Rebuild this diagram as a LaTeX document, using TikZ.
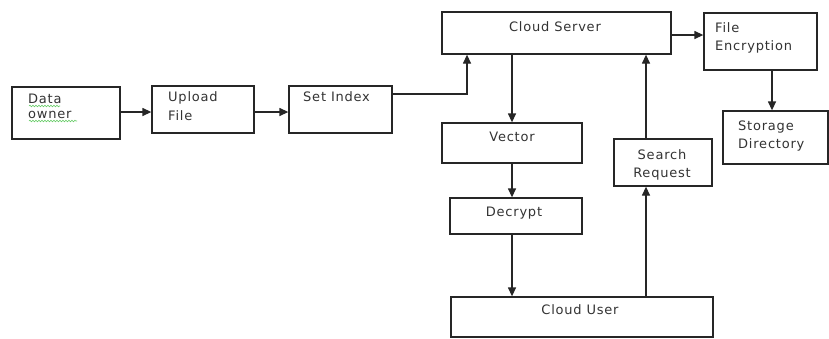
\documentclass[tikz,border=0pt]{standalone}
\usepackage{fontspec}
\setmainfont[LetterSpace=6]{DejaVu Sans}
\usetikzlibrary{arrows.meta,fit,decorations.pathmorphing}
\begin{document}
\begin{tikzpicture}[x=1bp,y=-1bp,
  box/.style={draw=black!85,line width=1.3bp,inner sep=0pt,fill=white},
  txt/.style={font=\fontsize{13bp}{18bp}\selectfont,text=black!80,inner sep=0pt,align=left},
  ctxt/.style={txt,align=center},
  arr/.style={draw=black!85,line width=1.3bp,-{Triangle[length=9bp,width=8bp]}},
  squig/.style={draw=green!50!gray!80,line width=0.6bp,decorate,decoration={snake,amplitude=0.8bp,segment length=3bp}}]
\useasboundingbox (0,0) rectangle (829,338);
\fill[white] (0,0) rectangle (829,338);
% boxes
\node[box,fit={(12,87) (120,139)}] (do) {};
\node[box,fit={(152,86) (254,133)}] (uf) {};
\node[box,fit={(289,86) (392,133)}] (si) {};
\node[box,fit={(442,12) (671,54)}] (cs) {};
\node[box,fit={(704,13) (817,70)}] (fe) {};
\node[box,fit={(723,111) (828,164)}] (sd) {};
\node[box,fit={(442,123) (582,163)}] (ve) {};
\node[box,fit={(614,139) (712,186)}] (sr) {};
\node[box,fit={(450,198) (582,234)}] (de) {};
\node[box,fit={(451,297) (713,337)}] (cu) {};
% texts
\node[txt,anchor=base west] (tdo1) at (28,103) {Data};
\node[txt,anchor=base west] (tdo2) at (28,118) {owner};
\draw[squig] (29,106) -- (60,106);
\draw[squig] (29,121) -- (77,121);
\node[txt,anchor=base west] (tuf1) at (168,101) {Upload};
\node[txt,anchor=base west] (tuf2) at (168,120) {File};
\node[txt,anchor=base west] (tsi) at (303,101) {Set Index};
\node[ctxt,anchor=base] (tcs) at (555,31) {Cloud Server};
\node[txt,anchor=base west] (tfe1) at (715,32) {File};
\node[txt,anchor=base west] (tfe2) at (715,50) {Encryption};
\node[txt,anchor=base west] (tsd1) at (738,130) {Storage};
\node[txt,anchor=base west] (tsd2) at (738,148) {Directory};
\node[ctxt,anchor=base] (tve) at (512,141) {Vector};
\node[ctxt,anchor=base] (tsr1) at (662,159) {Search};
\node[ctxt,anchor=base] (tsr2) at (662,177) {Request};
\node[ctxt,anchor=base] (tde) at (514,216) {Decrypt};
\node[ctxt,anchor=base] (tcu) at (580,314) {Cloud User};
% connectors
\draw[arr] (do.east |- 0,112) -- (uf.west |- 0,112);
\draw[arr] (uf.east |- 0,112) -- (si.west |- 0,112);
\draw[arr] (si.east |- 0,94) -- (467,94) -- (cs.south -| 467,0);
\draw[arr] (cs.south -| 512,0) -- (ve.north -| 512,0);
\draw[arr] (ve.south -| 512,0) -- (de.north -| 512,0);
\draw[arr] (de.south -| 512,0) -- (cu.north -| 512,0);
\draw[arr] (cu.north -| 646,0) -- (sr.south -| 646,0);
\draw[arr] (sr.north -| 646,0) -- (cs.south -| 646,0);
\draw[arr] (cs.east |- 0,35) -- (fe.west |- 0,35);
\draw[arr] (fe.south -| 772,0) -- (sd.north -| 772,0);
\end{tikzpicture}
\end{document}
